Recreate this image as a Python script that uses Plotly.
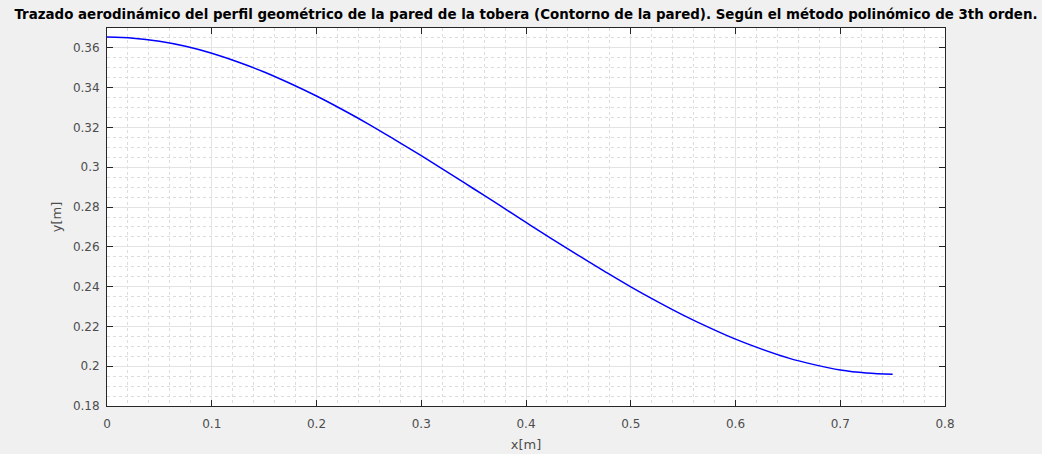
import plotly.graph_objects as go

# Wall contour of the nozzle (3rd-order polynomial profile)
x_m = [0.000, 0.025, 0.050, 0.075, 0.100, 0.125, 0.150, 0.175, 0.200, 0.225,
       0.250, 0.275, 0.300, 0.325, 0.350, 0.375, 0.400, 0.425, 0.450, 0.475,
       0.500, 0.525, 0.550, 0.575, 0.600, 0.625, 0.650, 0.675, 0.700, 0.725,
       0.750]
y_m = [0.3655, 0.3649, 0.3633, 0.3608, 0.3573, 0.3529, 0.3479, 0.3421, 0.3358, 0.3289,
       0.3216, 0.3138, 0.3058, 0.2976, 0.2892, 0.2808, 0.2723, 0.2639, 0.2557, 0.2477,
       0.2399, 0.2326, 0.2257, 0.2194, 0.2136, 0.2086, 0.2042, 0.2008, 0.1981, 0.1966,
       0.1960]

x_ticks = [0, 0.1, 0.2, 0.3, 0.4, 0.5, 0.6, 0.7, 0.8]
x_ticklabels = ["0", "0.1", "0.2", "0.3", "0.4", "0.5", "0.6", "0.7", "0.8"]
y_ticks = [0.18, 0.2, 0.22, 0.24, 0.26, 0.28, 0.3, 0.32, 0.34, 0.36]
y_ticklabels = ["0.18", "0.2", "0.22", "0.24", "0.26", "0.28", "0.3", "0.32", "0.34", "0.36"]

title_text = ("Trazado aerodinámico del perfil geométrico de la pared de la tobera "
              "(Contorno de la pared). Según el método polinómico de 3th orden.")

FONT = "DejaVu Sans, sans-serif"
AXIS_COLOR = "#262626"
TICK_COLOR = "#4d4d4d"

fig = go.Figure()
fig.add_trace(go.Scatter(
    x=x_m, y=y_m, mode="lines",
    line=dict(color="#0000ff", width=1.5, shape="spline"),
    showlegend=False, hoverinfo="skip",
))

axis_common = dict(
    showline=True, linecolor=AXIS_COLOR, linewidth=1, mirror="ticks",
    ticks="inside", ticklen=6, tickcolor=AXIS_COLOR, tickwidth=1,
    showgrid=True, gridcolor="#e3e3e3", gridwidth=1,
    zeroline=False, automargin=False,
    tickfont=dict(family=FONT, size=12, color=TICK_COLOR),
)

fig.update_xaxes(
    range=[0, 0.8], tickvals=x_ticks, ticktext=x_ticklabels,
    minor=dict(dtick=0.02, showgrid=True, gridcolor="#dcdcdc", griddash="dot",
               gridwidth=1, ticks=""),
    ticklabelstandoff=7,
    title=dict(text="x[m]", font=dict(family=FONT, size=13, color=TICK_COLOR), standoff=9),
    **axis_common,
)
fig.update_yaxes(
    range=[0.18, 0.37], tickvals=y_ticks, ticktext=y_ticklabels,
    minor=dict(dtick=0.005, showgrid=True, gridcolor="#dcdcdc", griddash="dot",
               gridwidth=1, ticks=""),
    ticklabelstandoff=4,
    title=dict(text="y[m]", font=dict(family=FONT, size=13, color=TICK_COLOR), standoff=8),
    **axis_common,
)

fig.update_layout(
    width=1042, height=454,
    margin=dict(l=107, r=97, t=28, b=48, autoexpand=False),
    paper_bgcolor="#f0f0f0", plot_bgcolor="#ffffff",
    title=dict(text="<b>" + title_text + "</b>", x=0.5, xref="paper",
               xanchor="center", y=1 - 14 / 454, yref="container", yanchor="middle",
               font=dict(family=FONT, size=13.4, color="#000000")),
)

fig.write_html("out.html")
